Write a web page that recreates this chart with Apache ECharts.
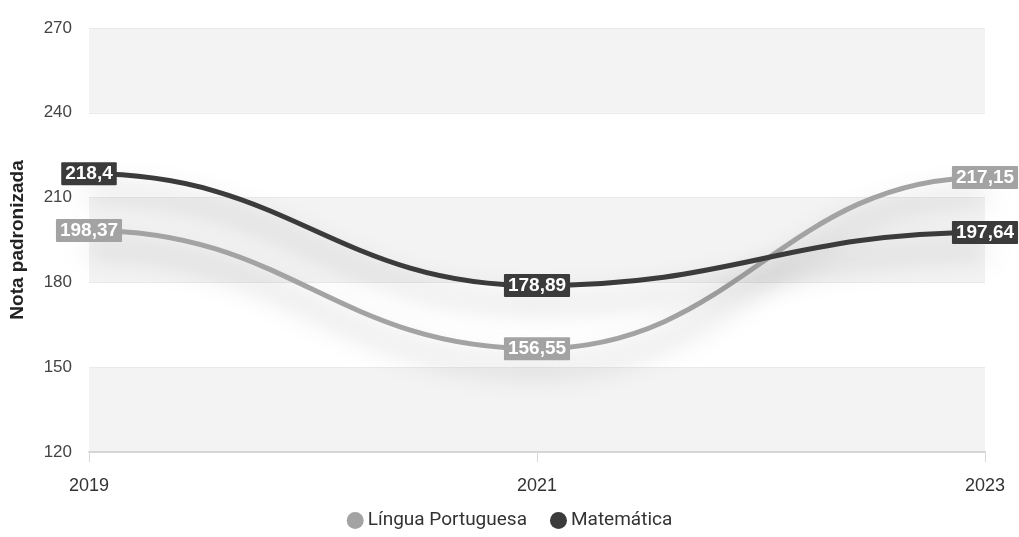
<!DOCTYPE html>
<html><head><meta charset="utf-8">
<script src="https://cdn.jsdelivr.net/npm/echarts@6/dist/echarts.min.js"></script>
<style>html,body{margin:0;padding:0;background:#fff}#c{width:1019px;height:537px}</style>
</head><body><div id="c"></div>
<script>
const categories = ['2019', '2021', '2023'];
const portugues = [198.37, 156.55, 217.15];
const matematica = [218.4, 178.89, 197.64];
const seriesNames = ['Língua Portuguesa', 'Matemática'];
const yAxisName = 'Nota padronizada';

const colors = ['#a3a3a3', '#3b3b3b'];
const fmt = p => String(p.value).replace('.', ',');

// segments between consecutive points, drawn as S-shaped bezier curves via axis coords
function segments(data) {
  const out = [];
  for (let i = 0; i < data.length - 1; i++) out.push([i, data[i], i + 1, data[i + 1]]);
  return out;
}
function curve(name, data, color) {
  return {
    name, type: 'custom', data: segments(data), z: 2,
    itemStyle: { color },
    renderItem: function (params, api) {
      const p0 = api.coord([api.value(0), api.value(1)]);
      const p1 = api.coord([api.value(2), api.value(3)]);
      const k = 0.45 * (p1[0] - p0[0]);
      return {
        type: 'bezierCurve',
        shape: { x1: p0[0], y1: p0[1], x2: p1[0], y2: p1[1], cpx1: p0[0] + k, cpy1: p0[1], cpx2: p1[0] - k, cpy2: p1[1] },
        style: { fill: null, stroke: color, lineWidth: 5, lineCap: 'round', shadowColor: 'rgba(0,0,0,0.35)', shadowBlur: 28, shadowOffsetY: 18 }
      };
    }
  };
}
function labels(name, data, color) {
  return {
    name, type: 'line', data, z: 5,
    symbol: 'circle', symbolSize: 1,
    itemStyle: { color },
    lineStyle: { width: 0, opacity: 0 },
    label: {
      show: true, position: 'inside', formatter: fmt,
      color: '#fff', fontWeight: 'bold', fontSize: 19, fontFamily: 'Liberation Sans, Arial',
      backgroundColor: color, padding: [2, 4, 1, 4], lineHeight: 20, borderRadius: 1
    }
  };
}
const chart = echarts.init(document.getElementById('c'));
chart.setOption({
  animation: false,
  grid: { left: 87, right: 34, top: 28, bottom: 85 },
  legend: {
    bottom: 2, left: 'center', icon: 'circle', itemWidth: 17, itemHeight: 17, itemGap: 23,
    textStyle: { color: '#333', fontSize: 19, fontFamily: 'Roboto', padding: [0, 0, 0, -1] },
    data: seriesNames
  },
  xAxis: {
    type: 'category', data: categories, boundaryGap: false,
    axisLine: { lineStyle: { color: '#d6d6d6', width: 2 } },
    axisTick: { show: true, lineStyle: { color: '#d9d9d9' }, length: 10 },
    axisLabel: { color: '#333', fontSize: 18, margin: 25, fontFamily: 'Liberation Sans, Arial' }
  },
  yAxis: {
    type: 'value', min: 120, max: 270, interval: 30,
    name: yAxisName, nameLocation: 'middle', nameGap: 62, nameRotate: 90,
    nameTextStyle: { fontWeight: 'bold', fontSize: 19, color: '#222', fontFamily: 'Liberation Sans, Arial' },
    axisLabel: { color: '#444', fontSize: 17, margin: 17, fontFamily: 'Liberation Sans, Arial' },
    splitLine: { lineStyle: { color: '#eaeaea', width: 1 } },
    splitArea: { show: true, areaStyle: { color: ['#f3f3f3', '#ffffff'] } }
  },
  series: [
    curve(seriesNames[0], portugues, colors[0]),
    curve(seriesNames[1], matematica, colors[1]),
    labels(seriesNames[0], portugues, colors[0]),
    labels(seriesNames[1], matematica, colors[1])
  ]
});
</script></body></html>
